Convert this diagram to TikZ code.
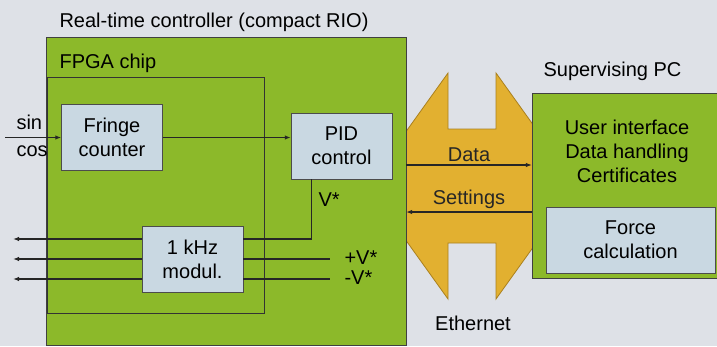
\documentclass[tikz,border=0pt]{standalone}
\usepackage{fontspec}
\setmainfont{Liberation Sans}
\usetikzlibrary{positioning,arrows.meta}
\definecolor{bgGray}{RGB}{222,225,231}
\definecolor{rioGreen}{RGB}{140,185,42}
\definecolor{boxBlue}{RGB}{201,216,226}
\definecolor{ethYellow}{RGB}{226,176,48}
\definecolor{ethEdge}{RGB}{170,128,30}

\begin{document}
\begin{tikzpicture}[x=1pt,y=-1pt,
  font=\fontsize{20}{24}\selectfont,
  box/.style={draw=black!70,fill=boxBlue,minimum width=101pt,minimum height=66pt,
    align=center,inner sep=0pt},
  unit/.style={draw=black!75,fill=rioGreen,inner sep=0pt},
  ar/.style={-{Latex[length=6pt,width=4.5pt]},line width=1.4pt,black!85},
  wire/.style={line width=1.4pt,black!85}]
\useasboundingbox[fill=bgGray] (0,0) rectangle (717,346);
% ethernet link
\draw[fill=ethYellow,draw=ethEdge,line width=0.8pt] (367,186) -- (448,73) -- (448,129)
  -- (496,129) -- (496,73) -- (577,186) -- (496,299) -- (496,243) -- (448,243)
  -- (448,299) -- cycle;
\node[unit,minimum width=360pt,minimum height=308pt] (rio) at (226,191) {};
\node[unit,minimum width=190pt,minimum height=185pt] (pc) at (627,185.5) {};
\node[anchor=base west] (rioTitle) at (56,27) {Real-time controller (compact RIO)};
\node[anchor=base west] (fpgaTitle) at (56,68) {FPGA chip};
\node[anchor=base west] (pcTitle) at (540,76) {Supervising PC};
\node (ethTitle) at (473,323) {Ethernet};
\node[draw=black!80,line width=1pt,minimum width=217pt,minimum height=236pt,
  inner sep=0pt] (fpga) at (155.5,195) {};
\node[box] (fringe) at (112,137.5) {Fringe\\counter};
\node[box] (pid) at (341.5,146) {PID\\control};
\node[box] (modul) at (192.5,259) {1 kHz\\modul.};
\node[align=center] (pcTasks) at (627,151) {User interface\\Data handling\\Certificates};
\node[box,minimum width=169pt] (force) at (630.5,240) {Force\\calculation};
% signals
\coordinate (sigIn) at (5,137.5);
\node[anchor=base west] (sinLbl) at (13,129) {sin};
\node[anchor=base west] (cosLbl) at (13,156) {cos};
\draw[ar] (sigIn) -- (fringe.west);
\draw[ar] (fringe.east) -- (fringe.east -| pid.west);
\coordinate (outA) at (13,239);
\coordinate (outB) at (13,259);
\coordinate (outC) at (13,279);
\coordinate (plusV) at (330,259);
\coordinate (minusV) at (330,279);
\draw[wire] ([xshift=-30pt]pid.south) |- (modul.east |- outA);
\draw[wire] (modul.east |- plusV) -- (plusV);
\draw[wire] (modul.east |- minusV) -- (minusV);
\draw[ar] (modul.west |- outA) -- (outA);
\draw[ar] (modul.west |- outB) -- (outB);
\draw[ar] (modul.west |- outC) -- (outC);
\node[anchor=west] (vLbl) at (315,200) {V*};
\node[anchor=west] (plusLbl) at (341,258) {+V*};
\node[anchor=west] (minusLbl) at (341,278) {-V*};
% ethernet traffic
\coordinate (dataL) at ([yshift=26pt]rio.east);
\coordinate (setL) at ([yshift=-21pt]rio.east);
\draw[ar,line width=1.1pt] (dataL) -- (dataL -| pc.west)
  node[midway,above=-1pt] {Data};
\draw[ar,line width=1.1pt] (setL -| pc.west) -- (setL)
  node[midway,above=-1pt] {Settings};
\end{tikzpicture}
\end{document}
